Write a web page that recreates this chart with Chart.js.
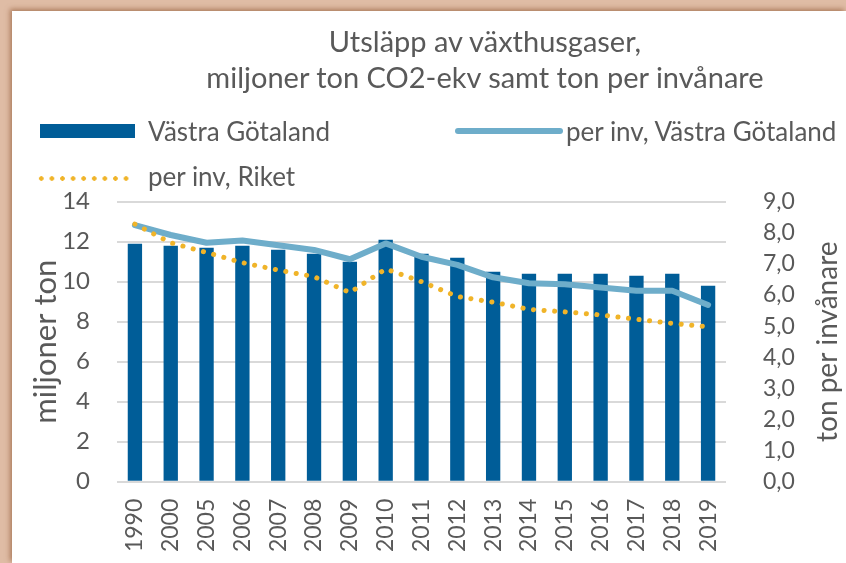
<!DOCTYPE html>
<html><head><meta charset="utf-8">
<script src="https://cdn.jsdelivr.net/npm/chart.js@4"></script>
<style>
html,body{margin:0;padding:0;width:846px;height:563px;overflow:hidden;background:#dfbca5;}
#frame{position:absolute;left:12px;top:11px;width:834px;height:552px;background:#fff;box-shadow:-2px -2px 5px rgba(150,95,60,0.7);}
#wrap{position:absolute;left:0;top:0;width:846px;height:563px;}
.txt{position:absolute;font-family:Lato,"Open Sans",sans-serif;color:#595959;white-space:nowrap;}
#title{left:135px;width:700px;top:23px;text-align:center;font-size:29px;line-height:36px;}
.leg{font-size:26px;line-height:30px;}
.sw{position:absolute;}
</style></head>
<body>
<div id="frame"></div>
<div id="wrap"><canvas id="c" width="846" height="563"></canvas></div>
<div id="title" class="txt">Utsläpp av växthusgaser,<br>miljoner ton CO2-ekv samt ton per invånare</div>
<div id="legend"></div>
<script>
const years = ['1990','2000','2005','2006','2007','2008','2009','2010','2011','2012','2013','2014','2015','2016','2017','2018','2019'];
const vgMillionTon = [11.9,11.8,11.7,11.8,11.6,11.4,11.0,12.1,11.4,11.2,10.5,10.4,10.4,10.4,10.3,10.4,9.8];
const vgPerInv = [8.25,7.93,7.68,7.75,7.6,7.45,7.15,7.66,7.23,6.97,6.57,6.38,6.35,6.24,6.14,6.14,5.68];
const riketPerInv = [8.28,7.68,7.37,7.04,6.8,6.59,6.08,6.84,6.43,5.95,5.77,5.54,5.46,5.36,5.22,5.09,4.98];
const leftTicks = [0,2,4,6,8,10,12,14];
const rightTicks = [0,1,2,3,4,5,6,7,8,9];

const names = ['Västra Götaland','per inv, Västra Götaland','per inv, Riket'];
const colBar = '#005d98', colVG = '#6eadca', colRiket = '#f0b429';
const FONT = 'Lato, "Open Sans", sans-serif';
const GRAY = '#595959';

// HTML legend
const lg = document.getElementById('legend');
lg.innerHTML =
 `<div class="sw" style="left:40px;top:124px;width:95px;height:14px;background:${colBar}"></div>
  <div class="txt leg" style="left:148px;top:116px">${names[0]}</div>
  <div class="sw" style="left:455px;top:128px;width:108px;height:6px;border-radius:3px;background:${colVG}"></div>
  <div class="txt leg" style="left:566px;top:116px">${names[1]}</div>
  <div class="sw" style="left:36px;top:176px;width:96px;height:5px;background:radial-gradient(circle,${colRiket} 2px,transparent 2.5px) 0 0/10.6px 5px repeat-x"></div>
  <div class="txt leg" style="left:148px;top:161px">${names[2]}</div>`;

const axisTitles = {
  id:'axisTitles',
  afterDraw(chart){
    const ctx = chart.ctx, ca = chart.chartArea;
    const cy = (ca.top+ca.bottom)/2;
    ctx.save();
    ctx.fillStyle = GRAY;
    ctx.font = '31px ' + FONT;
    ctx.textAlign='center'; ctx.textBaseline='middle';
    ctx.translate(46, cy); ctx.rotate(-Math.PI/2);
    ctx.fillText('miljoner ton',0,0);
    ctx.restore();
    ctx.save();
    ctx.fillStyle = GRAY;
    ctx.font = '28px ' + FONT;
    ctx.textAlign='center'; ctx.textBaseline='middle';
    ctx.translate(828, cy); ctx.rotate(-Math.PI/2);
    ctx.fillText('ton per invånare',0,0);
    ctx.restore();
  }
};

new Chart(document.getElementById('c'), {
  data:{
    labels: years,
    datasets:[
      {type:'bar', label:names[0], data:vgMillionTon, backgroundColor:colBar, yAxisID:'y', order:3,
       categoryPercentage:1, barPercentage:0.4},
      {type:'line', label:names[1], data:vgPerInv, borderColor:colVG, borderWidth:6, pointRadius:0,
       borderCapStyle:'round', borderJoinStyle:'round', yAxisID:'y1', order:2, tension:0},
      {type:'line', label:names[2], data:riketPerInv, borderColor:colRiket, borderWidth:5, pointRadius:0,
       borderCapStyle:'round', borderDash:[0.1,10.5], yAxisID:'y1', order:1, tension:0}
    ]
  },
  options:{
    responsive:false, animation:false, devicePixelRatio:1,
    layout:{padding:{top:201.7,left:0,right:0,bottom:0}},
    plugins:{legend:{display:false}, title:{display:false}, tooltip:{enabled:false}},
    scales:{
      x:{
        grid:{display:false, drawTicks:false}, border:{display:false},
        ticks:{color:GRAY, font:{family:FONT,size:23}, maxRotation:90, minRotation:90, padding:17, autoSkip:false},
        afterFit(s){ s.height = 563-481.7; }
      },
      y:{
        position:'left', min:0, max:14,
        afterBuildTicks(s){ s.ticks = leftTicks.map(v=>({value:v})); },
        grid:{color:'#d9d9d9', lineWidth:2, drawTicks:false}, border:{display:false},
        ticks:{color:GRAY, font:{family:FONT,size:24}, padding:27, autoSkip:false},
        afterFit(s){ s.width = 117; }
      },
      y1:{
        position:'right', min:0, max:9,
        afterBuildTicks(s){ s.ticks = rightTicks.map(v=>({value:v})); },
        grid:{display:false, drawTicks:false}, border:{display:false},
        ticks:{color:GRAY, font:{family:FONT,size:23}, padding:37, autoSkip:false, callback:v=>v.toFixed(1).replace('.',',')},
        afterFit(s){ s.width = 120; }
      }
    }
  },
  plugins:[axisTitles]
});
</script>
</body></html>
